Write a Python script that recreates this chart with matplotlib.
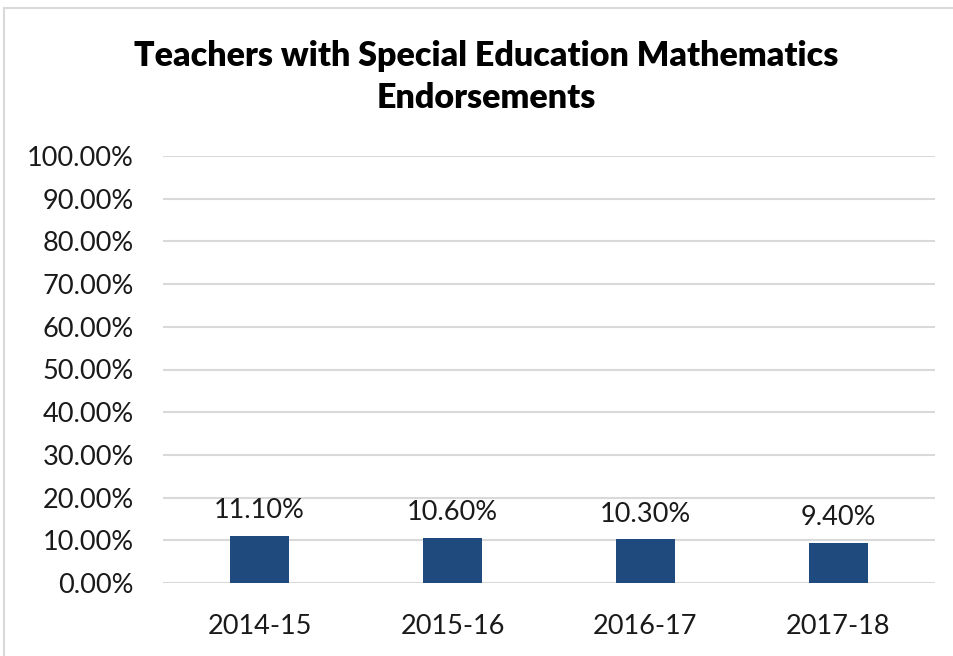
import matplotlib
matplotlib.use("Agg")
import matplotlib.pyplot as plt
from matplotlib.patches import Rectangle
from matplotlib.ticker import FuncFormatter, MultipleLocator

# data
years = ["2014-15", "2015-16", "2016-17", "2017-18"]
pct = [11.10, 10.60, 10.30, 9.40]
title = "Teachers with Special Education Mathematics\nEndorsements"

plt.rcParams['font.family'] = ['Lato', 'DejaVu Sans']

W, H = 954, 656
fig = plt.figure(figsize=(W / 100, H / 100), dpi=100)
ax = fig.add_axes([163 / W, 1 - 583 / H, (935 - 163) / W, (583 - 156) / H])

# chart border
fig.patches.append(Rectangle((4 / W, -0.05), 1.0, 1 - 8 / H + 0.05, transform=fig.transFigure,
                             fill=False, edgecolor="#D9D9D9", linewidth=1.5))

x = range(len(years))
bars = ax.bar(x, pct, width=0.31, color="#1F4A7E", zorder=3)
for b, v in zip(bars, pct):
    ax.annotate("%.2f%%" % v, (b.get_x() + b.get_width() / 2, v), xytext=(0, 9),
                textcoords="offset points", ha="center", va="bottom", fontsize=19.5, color="#1a1a1a")

ax.set_xlim(-0.5, len(years) - 0.5)
ax.set_ylim(0, 100)
ax.yaxis.set_major_locator(MultipleLocator(10))
ax.yaxis.set_major_formatter(FuncFormatter(lambda v, p: "%.2f%%" % v))
ax.set_xticks(list(x))
ax.set_xticklabels(years)
ax.grid(axis="y", color="#D9D9D9", linewidth=1.5, zorder=0)
ax.tick_params(axis="both", length=0, labelsize=19.5, colors="#1a1a1a")
ax.tick_params(axis="x", pad=22)
ax.tick_params(axis="y", pad=21)
for s in ax.spines.values():
    s.set_visible(False)

fig.text(486 / W, 1 - 77 / H, title, ha="center", va="center", fontsize=24.5,
         fontweight="heavy", linespacing=1.42, color="black")

fig.savefig("out.png", dpi=100)
